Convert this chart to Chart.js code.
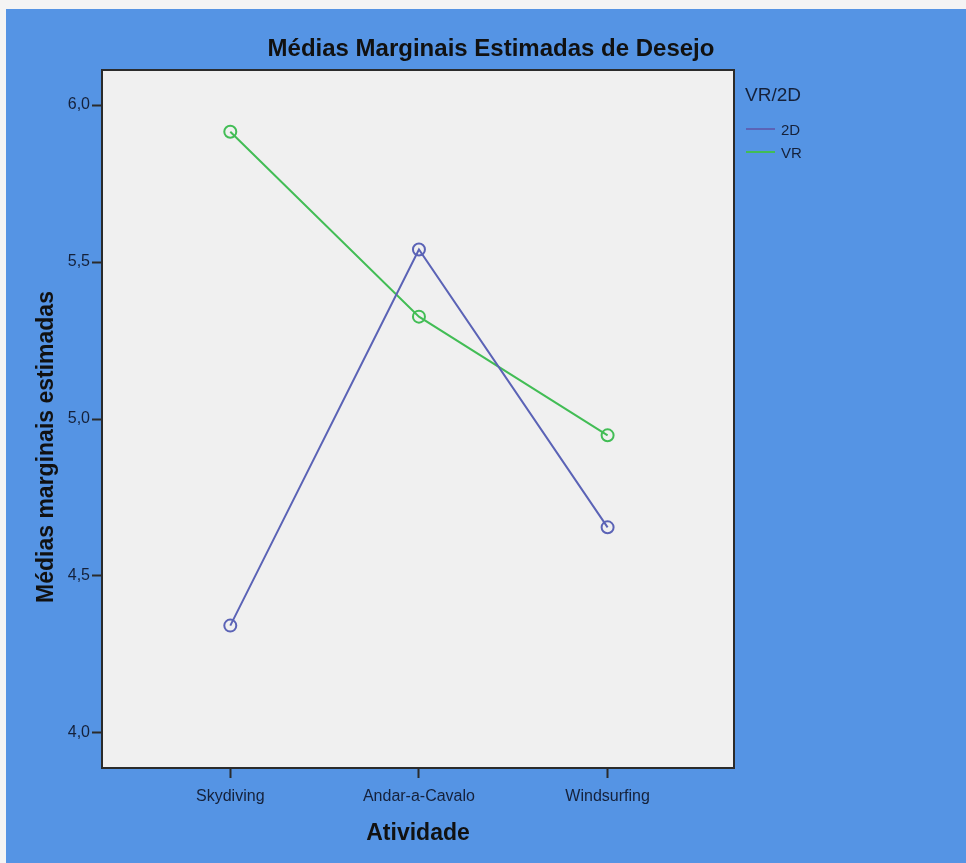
<!DOCTYPE html>
<html>
<head>
<meta charset="utf-8">
<script src="https://cdn.jsdelivr.net/npm/chart.js@4/dist/chart.umd.min.js"></script>
<style>
  html, body { margin: 0; padding: 0; background: #f4f4f4; }
  #wrap { width: 966px; height: 863px; }
</style>
</head>
<body>
<div id="wrap"><canvas id="chart" width="966" height="863"></canvas></div>
<script>
// data
const categories = ["Skydiving", "Andar-a-Cavalo", "Windsurfing"];
const seriesNames = ["2D", "VR"];
const values2D = [4.342, 5.540, 4.655];
const valuesVR = [5.915, 5.326, 4.948];
const yTicks = [4.0, 4.5, 5.0, 5.5, 6.0];
const chartTitle = "Médias Marginais Estimadas de Desejo";
const yTitle = "Médias marginais estimadas";
const xTitle = "Atividade";
const legendTitle = "VR/2D";

const colors = ["#5b63b6", "#42bd55"];
const textColor = "#15213a";

function toPoints(vals) {
  return vals.map((v, i) => ({ x: i, y: v }));
}

// background, frame, titles and the legend
const decor = {
  id: "decor",
  beforeDraw(chart) {
    const ctx = chart.ctx;
    const a = chart.chartArea;
    ctx.save();
    ctx.fillStyle = "#f4f4f4";
    ctx.fillRect(0, 0, chart.width, chart.height);
    ctx.fillStyle = "#5594e4";
    ctx.fillRect(6, 9, chart.width - 6, chart.height - 9);
    ctx.fillStyle = "#f0f0f0";
    ctx.fillRect(a.left, a.top, a.right - a.left, a.bottom - a.top);
    ctx.restore();
  },
  afterDraw(chart) {
    const ctx = chart.ctx;
    const a = chart.chartArea;
    ctx.save();
    ctx.strokeStyle = "#2b2b2b";
    ctx.lineWidth = 2;
    ctx.strokeRect(a.left, a.top, a.right - a.left, a.bottom - a.top);

    // title
    ctx.fillStyle = "#111";
    ctx.font = "bold 24px 'Liberation Sans', Arial, sans-serif";
    ctx.textAlign = "center";
    ctx.textBaseline = "middle";
    ctx.fillText(chartTitle, 491, 49);

    // y title
    ctx.save();
    ctx.translate(47, 447);
    ctx.rotate(-Math.PI / 2);
    ctx.font = "bold 23px 'Liberation Sans', Arial, sans-serif";
    ctx.fillText(yTitle, 0, 0);
    ctx.restore();

    // legend
    ctx.textAlign = "left";
    ctx.fillStyle = textColor;
    ctx.font = "19px 'Liberation Sans', Arial, sans-serif";
    ctx.fillText(legendTitle, 745, 96);
    ctx.font = "15px 'Liberation Sans', Arial, sans-serif";
    chart.data.datasets.forEach((ds, i) => {
      const y = 129 + i * 23;
      ctx.strokeStyle = ds.borderColor;
      ctx.lineWidth = 2;
      ctx.beginPath();
      ctx.moveTo(746, y);
      ctx.lineTo(775, y);
      ctx.stroke();
      ctx.fillStyle = textColor;
      ctx.fillText(ds.label, 781, y + 2);
    });
    ctx.restore();
  }
};

const datasets = [values2D, valuesVR].map((vals, i) => ({
  label: seriesNames[i],
  data: toPoints(vals),
  borderColor: colors[i],
  borderWidth: 2,
  pointStyle: "circle",
  pointRadius: 6,
  pointBorderWidth: 2,
  pointBackgroundColor: "rgba(0,0,0,0)",
  pointBorderColor: colors[i],
  tension: 0
}));

new Chart(document.getElementById("chart"), {
  type: "line",
  data: { datasets: datasets },
  plugins: [decor],
  options: {
    responsive: false,
    animation: false,
    layout: { padding: { top: 70, right: 232, left: 0, bottom: 0 } },
    plugins: {
      legend: { display: false },
      title: { display: false },
      tooltip: { enabled: false }
    },
    scales: {
      x: {
        type: "linear",
        min: -0.68,
        max: 2.67,
        afterFit: (s) => { s.height = 95; },
        afterBuildTicks: (s) => { s.ticks = categories.map((c, i) => ({ value: i })); },
        grid: { drawOnChartArea: false, drawTicks: true, tickLength: 10, tickColor: "#2b2b2b", tickWidth: 2 },
        border: { display: false },
        ticks: {
          padding: 9,
          color: textColor,
          font: { family: "'Liberation Sans', Arial, sans-serif", size: 16 },
          maxRotation: 0,
          callback: (v) => categories[v]
        },
        title: {
          display: true,
          text: xTitle,
          color: "#111",
          font: { family: "'Liberation Sans', Arial, sans-serif", size: 23, weight: "bold" },
          padding: { top: 0, bottom: 16 }
        }
      },
      y: {
        type: "linear",
        min: 3.8885,
        max: 6.1115,
        afterFit: (s) => { s.width = 102; },
        afterBuildTicks: (s) => { s.ticks = yTicks.map((v) => ({ value: v })); },
        grid: { drawOnChartArea: false, drawTicks: true, tickLength: 10, tickColor: "#2b2b2b", tickWidth: 2 },
        border: { display: false },
        ticks: {
          padding: 2,
          color: textColor,
          font: { family: "'Liberation Sans', Arial, sans-serif", size: 16 },
          callback: (v) => v.toFixed(1).replace(".", ",")
        }
      }
    }
  }
});
</script>
</body>
</html>
